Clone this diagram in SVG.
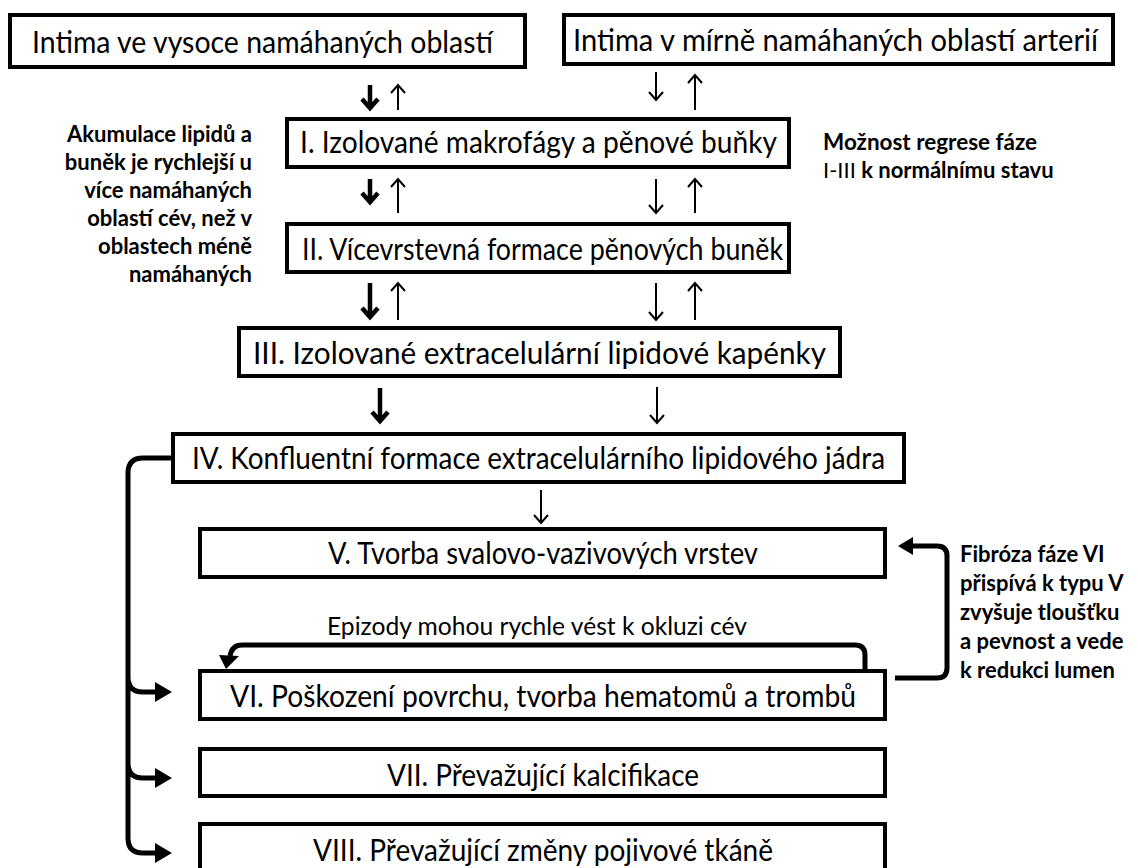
<svg xmlns="http://www.w3.org/2000/svg" width="1138" height="868" viewBox="0 0 1138 868">
<style>
.box{fill:#fff;stroke:#000;stroke-width:4}
.t{font-family:Lato,"Liberation Sans",sans-serif;font-size:30px;fill:#000}
.n{font-family:Lato,"Liberation Sans",sans-serif;font-size:22px;font-weight:bold;fill:#000}
.r{font-weight:normal}
.thick{fill:none;stroke:#000;stroke-width:4.5}
.thin{fill:none;stroke:#000;stroke-width:2}
.con{fill:none;stroke:#000;stroke-width:5}
.head{fill:#000;stroke:none}
</style>
<rect width="1138" height="868" fill="#fff"/>

<g id="box1"><rect class="box" x="10" y="15" width="515" height="52"/><text class="t" x="32" y="53" textLength="461" lengthAdjust="spacingAndGlyphs">Intima ve vysoce namáhaných oblastí</text></g>
<g id="box2"><rect class="box" x="564" y="15" width="549" height="49"/><text class="t" x="573" y="51" textLength="525" lengthAdjust="spacingAndGlyphs">Intima v mírně namáhaných oblastí arterií</text></g>
<g id="boxI"><rect class="box" x="287" y="119" width="502" height="48"/><text class="t" x="300" y="153" textLength="477" lengthAdjust="spacingAndGlyphs">I. Izolované makrofágy a pěnové buňky</text></g>
<g id="boxII"><rect class="box" x="287" y="224" width="502" height="48"/><text class="t" x="302" y="260" textLength="481" lengthAdjust="spacingAndGlyphs">II. Vícevrstevná formace pěnových buněk</text></g>
<g id="boxIII"><rect class="box" x="239" y="328" width="601" height="48"/><text class="t" x="253" y="364" textLength="573" lengthAdjust="spacingAndGlyphs">III. Izolované extracelulární lipidové kapénky</text></g>
<g id="boxIV"><rect class="box" x="173" y="434" width="731" height="48"/><text class="t" x="192" y="469" textLength="693" lengthAdjust="spacingAndGlyphs">IV. Konfluentní formace extracelulárního lipidového jádra</text></g>
<g id="boxV"><rect class="box" x="200" y="529" width="685" height="48"/><text class="t" x="328" y="564" textLength="430" lengthAdjust="spacingAndGlyphs">V. Tvorba svalovo-vazivových vrstev</text></g>
<g id="boxVI"><rect class="box" x="200" y="671" width="685" height="48"/><text class="t" x="230" y="707" textLength="626" lengthAdjust="spacingAndGlyphs">VI. Poškození povrchu, tvorba hematomů a trombů</text></g>
<g id="boxVII"><rect class="box" x="200" y="749" width="685" height="47"/><text class="t" x="387" y="786" textLength="312" lengthAdjust="spacingAndGlyphs">VII. Převažující kalcifikace</text></g>
<g id="boxVIII"><rect class="box" x="200" y="824" width="685" height="60"/><text class="t" x="313" y="861" textLength="460" lengthAdjust="spacingAndGlyphs">VIII. Převažující změny pojivové tkáně</text></g>

<g id="note-left" class="n" text-anchor="end">
<text x="252" y="142">Akumulace lipidů a</text>
<text x="252" y="170">buněk je rychlejší u</text>
<text x="252" y="198">více namáhaných</text>
<text x="252" y="226">oblastí cév, než v</text>
<text x="252" y="254">oblastech méně</text>
<text x="252" y="282">namáhaných</text>
</g>
<g id="note-right" class="n">
<text x="823" y="150" textLength="214" lengthAdjust="spacingAndGlyphs">Možnost regrese fáze</text>
<text x="823" y="178"><tspan class="r">I-III</tspan> k normálnímu stavu</text>
</g>
<g id="note-fibrosis" class="n">
<text x="960" y="562">Fibróza fáze VI</text>
<text x="960" y="591">přispívá k typu V</text>
<text x="960" y="620">zvyšuje tloušťku</text>
<text x="960" y="649">a pevnost a vede</text>
<text x="960" y="678">k redukci lumen</text>
</g>
<g id="note-episodes"><text class="n r" x="327" y="635" textLength="420" lengthAdjust="spacingAndGlyphs" style="font-size:25px">Epizody mohou rychle vést k okluzi cév</text></g>

<g id="connectors">
<!-- row 1 -->
<path class="thick" d="M370,85V107M362,99L370,108L378,99"/>
<path class="thin" d="M398,110V86M391,93L398,85L405,93"/>
<path class="thin" d="M656,72V99M649,92L656,100L663,92"/>
<path class="thin" d="M695,110V76M688,83L695,75L702,83"/>
<!-- row 2 -->
<path class="thick" d="M370,179V201M362,193L370,202L378,193"/>
<path class="thin" d="M398,213V180M391,187L398,179L405,187"/>
<path class="thin" d="M656,179V212M649,205L656,213L663,205"/>
<path class="thin" d="M695,213V180M688,187L695,179L702,187"/>
<!-- row 3 -->
<path class="thick" d="M370,283V316M362,308L370,317L378,308"/>
<path class="thin" d="M398,320V284M391,291L398,283L405,291"/>
<path class="thin" d="M656,283V319M649,312L656,320L663,312"/>
<path class="thin" d="M695,320V284M688,291L695,283L702,291"/>
<!-- row 4 -->
<path class="thick" d="M380,388V420M372,412L380,421L388,412"/>
<path class="thin" d="M657,387V422M650,415L657,423L664,415"/>
<!-- IV to V -->
<path class="thin" d="M541,490V522M534,515L541,523L548,515"/>
<!-- IV bracket to VI, VII, VIII -->
<path class="con" d="M173,458H143Q128,458 128,473V838Q128,853 143,853H156M128,677Q128,692 143,692H156M128,763Q128,778 143,778H156"/>
<path class="head" d="M155,682L172,692L155,702ZM155,768L172,778L155,788ZM155,843L172,853L155,863Z"/>
<!-- episodes loop -->
<path class="con" d="M865,672V655Q865,645 855,645H242Q232,645 230,656"/>
<path class="head" d="M219,655L239,656L226,669Z"/>
<!-- fibrosis loop -->
<path class="con" d="M895,678H937Q947,678 947,668V556Q947,546 937,546H912"/>
<path class="head" d="M913,537L898,546L913,555Z"/>
</g>
</svg>
